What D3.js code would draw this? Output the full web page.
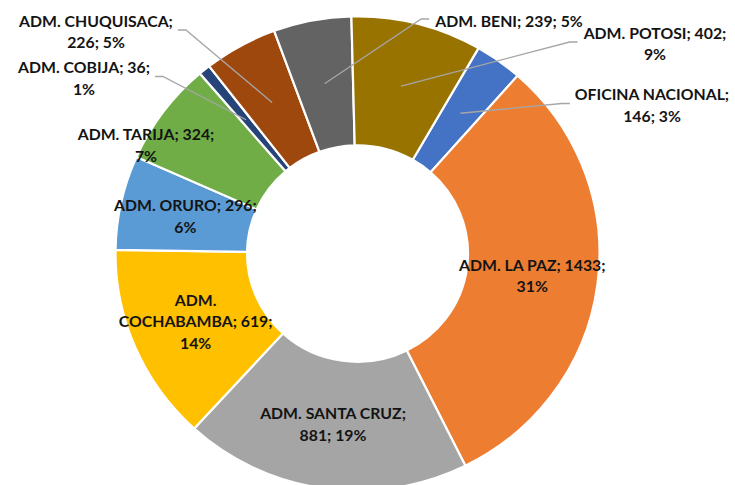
<!DOCTYPE html>
<html>
<head>
<meta charset="utf-8">
<script src="https://cdn.jsdelivr.net/npm/d3@7"></script>
<style>
  body { margin: 0; background: #fff; }
  text { font-family: Lato, "Open Sans", sans-serif; font-weight: bold; font-size: 15.8px; fill: #141414; }
</style>
</head>
<body>
<div id="chart"></div>
<script>
// data, in the order Excel stores it (first slice starts at 30 degrees)
var names = ["OFICINA NACIONAL", "ADM. LA PAZ", "ADM. SANTA CRUZ", "ADM. COCHABAMBA", "ADM. ORURO",
             "ADM. TARIJA", "ADM. COBIJA", "ADM. CHUQUISACA", "ADM. BENI", "ADM. POTOSI"];
var values = [146, 1433, 881, 619, 296, 324, 36, 226, 239, 402];
var colors = ["#4472C4", "#ED7D31", "#A5A5A5", "#FFC000", "#5B9BD5",
              "#70AD47", "#264478", "#9E480E", "#636363", "#997300"];

// how many words go on each line of a label
var wrap = {
    "OFICINA NACIONAL": [2, 2],
    "ADM. LA PAZ": [4, 1],
    "ADM. SANTA CRUZ": [3, 2],
    "ADM. COCHABAMBA": [1, 2, 1],
    "ADM. ORURO": [3, 1],
    "ADM. TARIJA": [3, 1],
    "ADM. COBIJA": [3, 1],
    "ADM. CHUQUISACA": [2, 2],
    "ADM. BENI": [4],
    "ADM. POTOSI": [3, 1]
};
// labels dragged out of their slice: block centre and leader side
var moved = {
    "ADM. CHUQUISACA": {x: 96, y: 32, side: "right"},
    "ADM. COBIJA": {x: 84, y: 78.5, side: "right"},
    "ADM. TARIJA": {x: 146, y: 145.5, side: null},
    "ADM. BENI": {x: 509, y: 21, side: "left"},
    "ADM. POTOSI": {x: 655, y: 44, side: "left"},
    "OFICINA NACIONAL": {x: 652, y: 105.5, side: "left"}
};

var width = 735, height = 485;
var cx = 357.5, cy = 253.5, outerR = 242, innerR = 110.5, sy = 0.98;
var lineH = 21.5;

// percents like Excel: rounded so they add up to 100
function percents(vals){
    var total = d3.sum(vals);
    var raw = vals.map(function(v){ return v / total * 100; });
    var out = raw.map(Math.floor);
    var left = 100 - d3.sum(out);
    var order = d3.range(vals.length).sort(function(a, b){ return (raw[b] - out[b]) - (raw[a] - out[a]); });
    for (var i = 0; i < left; i++) out[order[i]]++;
    return out;
}
var pct = percents(values);

var data = names.map(function(n, i){ return {name: n, value: values[i], pct: pct[i], color: colors[i]}; });

var svg = d3.select("#chart").append("svg")
    .attr("width", width)
    .attr("height", height);

var start = 30 * Math.PI / 180;
var pie = d3.pie().sort(null).value(function(d){ return d.value; })
    .startAngle(start).endAngle(start + 2 * Math.PI);
var arc = d3.arc().innerRadius(innerR).outerRadius(outerR);
var arcs = pie(data);

var g = svg.append("g")
    .attr("transform", "translate(" + cx + "," + cy + ") scale(1," + sy + ")");

g.selectAll("path")
    .data(arcs)
    .enter().append("path")
    .attr("d", arc)
    .attr("fill", function(d){ return d.data.color; })
    .attr("stroke", "#fff")
    .attr("stroke-width", 2.2);

function centroid(d){
    var c = arc.centroid(d);
    return [cx + c[0], cy + c[1] * sy];
}

var lines = svg.append("g");
var labels = svg.append("g");

arcs.forEach(function(d){
    var words = (d.data.name + "; " + d.data.value + "; " + d.data.pct + "%").split(" ");
    var rows = [], k = 0;
    wrap[d.data.name].forEach(function(n){
        rows.push(words.slice(k, k + n).join(" "));
        k += n;
    });
    var c = centroid(d);
    var m = moved[d.data.name];
    var pos = m ? [m.x, m.y] : c;

    var t = labels.append("text")
        .attr("text-anchor", "middle");
    rows.forEach(function(r, i){
        t.append("tspan")
            .attr("x", pos[0])
            .attr("y", pos[1] + (i - (rows.length - 1) / 2) * lineH + 5.5)
            .text(r);
    });

    if (m && m.side){
        var bb = t.node().getBBox();
        var y0 = m.y - 2;
        var x0 = m.side === "right" ? bb.x + bb.width + 5 : bb.x - 5;
        var x1 = m.side === "right" ? x0 + 8 : x0 - 8;
        lines.append("path")
            .attr("d", d3.line()([[x0, y0], [x1, y0], c]))
            .attr("fill", "none")
            .attr("stroke", "#A6A6A6")
            .attr("stroke-width", 1.3);
    }
});
</script>
</body>
</html>
